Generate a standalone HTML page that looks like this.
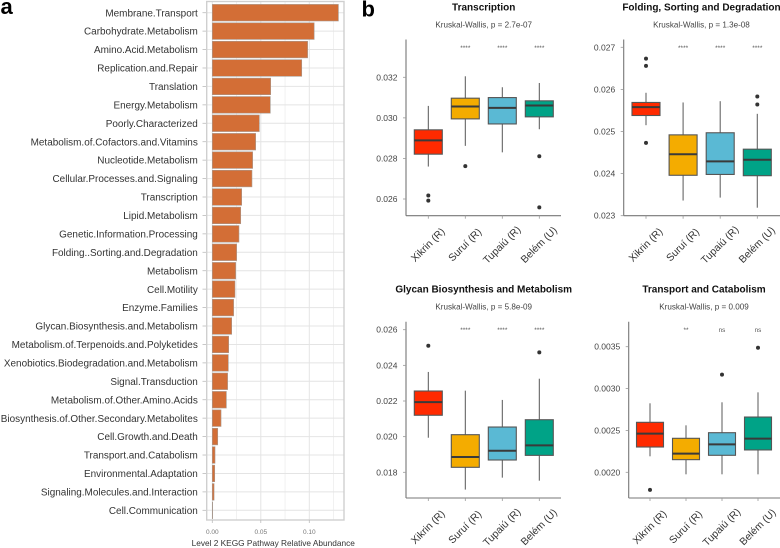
<!DOCTYPE html>
<html>
<head>
<meta charset="utf-8">
<title>KEGG pathway abundance chart</title>
<style>
html,body{margin:0;padding:0;background:#fff;width:780px;height:548px;overflow:hidden}
svg{display:block;font-family:"Liberation Sans",Arial,sans-serif;filter:blur(0.3px)}
</style>
</head>
<body>
<svg id="chart" xmlns="http://www.w3.org/2000/svg" width="780" height="548" viewBox="0 0 780 548">
<text x="0.5" y="14" font-size="22" font-weight="bold" fill="#000">a</text>
<text x="361.5" y="16.5" font-size="22" font-weight="bold" fill="#000">b</text>
</svg>
<script>
const pathways = ["Membrane.Transport","Carbohydrate.Metabolism","Amino.Acid.Metabolism","Replication.and.Repair","Translation","Energy.Metabolism","Poorly.Characterized","Metabolism.of.Cofactors.and.Vitamins","Nucleotide.Metabolism","Cellular.Processes.and.Signaling","Transcription","Lipid.Metabolism","Genetic.Information.Processing","Folding..Sorting.and.Degradation","Metabolism","Cell.Motility","Enzyme.Families","Glycan.Biosynthesis.and.Metabolism","Metabolism.of.Terpenoids.and.Polyketides","Xenobiotics.Biodegradation.and.Metabolism","Signal.Transduction","Metabolism.of.Other.Amino.Acids","Biosynthesis.of.Other.Secondary.Metabolites","Cell.Growth.and.Death","Transport.and.Catabolism","Environmental.Adaptation","Signaling.Molecules.and.Interaction","Cell.Communication"];
const abundance = [0.130,0.105,0.0983,0.0922,0.0602,0.0598,0.0485,0.0447,0.0416,0.0409,0.0303,0.0293,0.0275,0.0251,0.0241,0.0234,0.0220,0.0200,0.0169,0.0165,0.0158,0.0145,0.0090,0.0056,0.0028,0.0025,0.0018,0.0004];
const abundanceTicks = [0,0.05,0.10];
const abundanceTickLabels = ["0.00","0.05","0.10"];
const abundanceMinorTicks = [0.025,0.075,0.125];

const groups = ["Xikrin (R)","Suruí (R)","Tupaiú (R)","Belém (U)"];
const groupColors = ["#ff2a00","#f4ac00","#5ab9d4","#00a387"];

/* each box: whisker high, Q3, median, Q1, whisker low */
const transcriptionBoxes = [[0.03059,0.02941,0.02889,0.02821,0.0276],[0.03205,0.03097,0.03056,0.02995,0.02862],[0.03151,0.0310,0.03049,0.0297,0.0283],[0.03172,0.03084,0.03061,0.03005,0.02944]];
const transcriptionOutliers = [[0.02617,0.02592],[0.02762],[],[0.02811,0.02559]];
const transcriptionTicks = [0.026,0.028,0.030,0.032];
const transcriptionTickLabels = ["0.026","0.028","0.030","0.032"];
const transcriptionSignif = ["","****","****","****"];

const foldingBoxes = [[0.02592,0.02569,0.02558,0.02538,0.02515],[0.02569,0.02492,0.02446,0.02396,0.02336],[0.02572,0.02497,0.02429,0.02398,0.02343],[0.02542,0.02458,0.02433,0.02395,0.02319]];
const foldingOutliers = [[0.02673,0.02656,0.02473],[],[],[0.02583,0.02564]];
const foldingTicks = [0.023,0.024,0.025,0.026,0.027];
const foldingTickLabels = ["0.023","0.024","0.025","0.026","0.027"];
const foldingSignif = ["","****","****","****"];

const glycanBoxes = [[0.02363,0.02256,0.02194,0.0212,0.01994],[0.02258,0.02011,0.01886,0.01828,0.01703],[0.02206,0.02054,0.01921,0.01869,0.0177],[0.02325,0.02095,0.01951,0.01895,0.01753]];
const glycanOutliers = [[0.0251],[],[],[0.02473]];
const glycanTicks = [0.018,0.020,0.022,0.024,0.026];
const glycanTickLabels = ["0.018","0.020","0.022","0.024","0.026"];
const glycanSignif = ["","****","****","****"];

const transportBoxes = [[0.002824,0.002597,0.002462,0.002302,0.002191],[0.002561,0.002406,0.002223,0.002151,0.001976],[0.002836,0.002473,0.002334,0.002203,0.001976],[0.002955,0.00266,0.002402,0.002267,0.001976]];
const transportOutliers = [[0.00179],[],[0.003166],[0.003488]];
const transportTicks = [0.0020,0.0025,0.0030,0.0035];
const transportTickLabels = ["0.0020","0.0025","0.0030","0.0035"];
const transportSignif = ["","**","ns","ns"];

const svg = document.getElementById('chart');
const NS = 'http://www.w3.org/2000/svg';
function make(tag, attrs, text){
  const el = document.createElementNS(NS, tag);
  for (const k in attrs) el.setAttribute(k, attrs[k]);
  if (text !== undefined) el.textContent = text;
  svg.appendChild(el);
  return el;
}
function slug(s){ return s.toLowerCase().replace(/[^a-z0-9]+/g,'-').replace(/^-|-$/g,''); }

/* ---------- panel a ---------- */
const xA = v => 212.3 + v * 970;
const yA = i => 12.7 + i * 18.43;
const boxA = {l:206.7, r:344, t:1.5, b:520};

abundanceMinorTicks.forEach(function(t){
  const el = make('line',{x1:xA(t),x2:xA(t),y1:boxA.t,y2:boxA.b,stroke:'#eeeeee','stroke-width':0.8});
  
  
});
abundanceTicks.forEach(function(t){
  const el = make('line',{x1:xA(t),x2:xA(t),y1:boxA.t,y2:boxA.b,stroke:'#e4e4e4','stroke-width':1});
  
  
});
pathways.forEach(function(name,i){
  const grid = make('line',{x1:boxA.l,x2:boxA.r,y1:yA(i),y2:yA(i),stroke:'#e4e4e4','stroke-width':1});
  
  
  const tick = make('line',{x1:202.5,x2:boxA.l,y1:yA(i),y2:yA(i),stroke:'#bbbbbb','stroke-width':0.8});
  
  
  const label = make('text',{x:197.8,y:yA(i)+3.6,'text-anchor':'end','font-size':9.95,fill:'#333'},name);
  
  
  const bar = make('rect',{x:xA(0),y:yA(i)-8.3,width:xA(abundance[i])-xA(0),height:16.6,fill:'#d36e36',stroke:'#a89a90','stroke-width':0.6});
  
  
});
const frameA = make('rect',{x:boxA.l,y:boxA.t,width:boxA.r-boxA.l,height:boxA.b-boxA.t,fill:'none',stroke:'#cfcfcf','stroke-width':1.4});


abundanceTicks.forEach(function(t,i){
  const tick = make('line',{x1:xA(t),x2:xA(t),y1:boxA.b,y2:boxA.b+3,stroke:'#bbbbbb','stroke-width':0.8});
  
  
  const label = make('text',{x:xA(t),y:534,'text-anchor':'middle','font-size':6.5,fill:'#777'},abundanceTickLabels[i]);
  
  
});
const titleA = make('text',{x:191.6,y:546,'font-size':8.3,fill:'#333'},'Level 2 KEGG Pathway Relative Abundance');



/* ---------- panel b ---------- */
function drawPanel(p){
  const y = v => p.pLo + (v - p.vLo) * (p.pHi - p.pLo) / (p.vHi - p.vLo);
  const x = i => p.cx0 + i * p.step;
  const key = slug(p.title);

  const title = make('text',{x:p.titleX,y:p.top-29,'text-anchor':'middle','font-size':10,'font-weight':'bold',fill:'#111'},p.title);
  
  
  const sub = make('text',{x:p.titleX,y:p.top-12,'text-anchor':'middle','font-size':8.1,fill:'#444'},p.subtitle);
  
  

  const yAxis = make('line',{x1:p.left,x2:p.left,y1:p.top,y2:p.bottom,stroke:'#777','stroke-width':1.1});
  
  
  const xAxis = make('line',{x1:p.left,x2:p.right,y1:p.bottom,y2:p.bottom,stroke:'#777','stroke-width':1.1});
  
  

  p.ticks.forEach(function(t,i){
    const tick = make('line',{x1:p.left-3,x2:p.left,y1:y(t),y2:y(t),stroke:'#999','stroke-width':0.8});
    
    
    const label = make('text',{x:p.left-8.5,y:y(t)+3,'text-anchor':'end','font-size':8.5,fill:'#444'},p.tickLabels[i]);
    
    
  });

  groups.forEach(function(g,i){
    const b = p.boxes[i];
    const cx = x(i);
    const gk = slug(g);
    const whisker = make('line',{x1:cx,x2:cx,y1:y(b[0]),y2:y(b[4]),stroke:p.whisker,'stroke-width':p.whiskerWidth});
    
    
    const box = make('rect',{x:cx-p.boxW/2,y:y(b[1]),width:p.boxW,height:y(b[3])-y(b[1]),fill:groupColors[i],stroke:'#555','stroke-width':1.1});
    
    
    const med = make('line',{x1:cx-p.boxW/2,x2:cx+p.boxW/2,y1:y(b[2]),y2:y(b[2]),stroke:'#3a3a3a','stroke-width':2});
    
    
    p.outliers[i].forEach(function(o){
      const dot = make('circle',{cx:cx,cy:y(o),r:2,fill:'#333'});
      
      
    });
    const tick = make('line',{x1:cx,x2:cx,y1:p.bottom,y2:p.bottom+3,stroke:'#999','stroke-width':0.8});
    
    
    const lx = cx + 2, ly = p.bottom + 31.5;
    const label = make('text',{x:lx,y:ly,'text-anchor':'middle','font-size':10.3,fill:'#333',transform:'rotate(-45 '+lx+' '+ly+')'},g);
    
    
    if (p.signif[i]) {
      const isNs = p.signif[i] === 'ns';
      const sig = make('text',{x:cx,y:p.top + 10.5,'text-anchor':'middle','font-size':isNs ? 6.3 : 6.5,fill:'#555'},p.signif[i]);
      
      
    }
  });
}

drawPanel({title:'Transcription',subtitle:'Kruskal-Wallis, p = 2.7e-07',titleX:483.7,left:406,right:561,top:39.5,bottom:215.7,cx0:428.3,step:37,boxW:28,vLo:0.026,pLo:199,vHi:0.032,pHi:77.3,whisker:'#555',whiskerWidth:1,ticks:transcriptionTicks,tickLabels:transcriptionTickLabels,boxes:transcriptionBoxes,outliers:transcriptionOutliers,signif:transcriptionSignif});
drawPanel({title:'Folding, Sorting and Degradation',subtitle:'Kruskal-Wallis, p = 1.3e-08',titleX:701.5,left:623.7,right:780,top:39.5,bottom:215.7,cx0:646,step:37.1,boxW:28,vLo:0.023,pLo:215.7,vHi:0.027,pHi:47.3,whisker:'#666',whiskerWidth:1.1,ticks:foldingTicks,tickLabels:foldingTickLabels,boxes:foldingBoxes,outliers:foldingOutliers,signif:foldingSignif});
drawPanel({title:'Glycan Biosynthesis and Metabolism',subtitle:'Kruskal-Wallis, p = 5.8e-09',titleX:483.7,left:406,right:561,top:321.7,bottom:498,cx0:428.3,step:37,boxW:28,vLo:0.018,pLo:472.3,vHi:0.026,pHi:329.7,whisker:'#555',whiskerWidth:1,ticks:glycanTicks,tickLabels:glycanTickLabels,boxes:glycanBoxes,outliers:glycanOutliers,signif:glycanSignif});
drawPanel({title:'Transport and Catabolism',subtitle:'Kruskal-Wallis, p = 0.009',titleX:704,left:628.7,right:780,top:321.7,bottom:498,cx0:650,step:36,boxW:27,vLo:0.0020,pLo:472.3,vHi:0.0035,pHi:346.7,whisker:'#888',whiskerWidth:1.4,ticks:transportTicks,tickLabels:transportTickLabels,boxes:transportBoxes,outliers:transportOutliers,signif:transportSignif});
</script>
</body>
</html>
